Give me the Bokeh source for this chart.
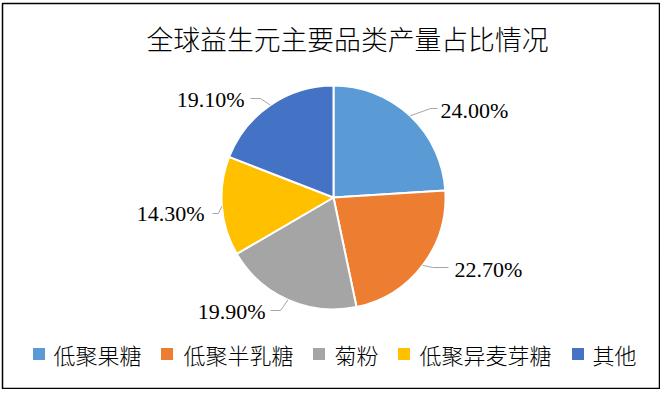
import numpy as np
from bokeh.plotting import figure
from bokeh.models import Range1d
from bokeh.core.properties import value
from bokeh.embed import file_html
from bokeh.resources import INLINE

# ---- data ----
title_text = "全球益生元主要品类产量占比情况"
categories = ["低聚果糖", "低聚半乳糖", "菊粉", "低聚异麦芽糖", "其他"]
shares = [24.00, 22.70, 19.90, 14.30, 19.10]
colors = ["#5B9BD5", "#ED7D31", "#A5A5A5", "#FFC000", "#4472C4"]

# ---- layout ----
W, H = 660, 389
OX, OY = 0, 0
CX, CY, R = 333, 197, 112
CJK = "Noto Sans CJK SC Light, Noto Sans CJK SC"


def X(x):
    return x - OX


def Y(y):
    return H - (y - OY)


p = figure(width=W, height=H, output_backend="svg", toolbar_location=None,
           x_range=Range1d(0, W), y_range=Range1d(0, H),
           x_axis_type=None, y_axis_type=None, min_border=0)
p.grid.visible = False
p.outline_line_color = None
p.background_fill_color = "white"
p.border_fill_color = "white"

# chart-area border
p.quad(left=X(2), right=W - 1, top=Y(3), bottom=1, fill_color=None,
       line_color="black", line_width=1.5)

vals = np.array(shares)
cum = np.concatenate([[0], np.cumsum(vals)]) / vals.sum()
starts = np.pi / 2 - 2 * np.pi * cum[:-1]
ends = np.pi / 2 - 2 * np.pi * cum[1:]
mids = (starts + ends) / 2

p.wedge(x=X(CX), y=Y(CY), radius=R, start_angle=starts, end_angle=ends,
        direction="clock", fill_color=colors, line_color="white", line_width=2)

# leader lines and labels
elbows = [(430, 108), (432, 267), (280, 310), (218, 213), (260, 98)]
line_ends = [(437, 108), (448, 267), (270, 310), (212, 213), (250, 98)]
text_pos = [(440, 110, "left"), (454, 269, "left"), (265, 311, "right"),
            (204, 213, "right"), (244, 99, "right")]

xs, ys = [], []
for m, e, le in zip(mids, elbows, line_ends):
    ex = CX + R * np.cos(m)
    ey = CY - R * np.sin(m)
    xs.append([X(ex), X(e[0]), X(le[0])])
    ys.append([Y(ey), Y(e[1]), Y(le[1])])
p.multi_line(xs=xs, ys=ys, line_color="#A6A6A6", line_width=1)

for v, (tx, ty, al) in zip(shares, text_pos):
    p.text(x=[X(tx)], y=[Y(ty)], text=[f"{v:.2f}%"], text_align=al,
           text_baseline="middle", text_font=value("Liberation Serif"),
           text_font_size="22px", text_color="black")

# title
p.text(x=[X(347)], y=[Y(38)], text=[title_text], text_align="center",
       text_baseline="middle", text_font=value(CJK),
       text_font_size="26.8px", text_color="black")

# legend
sq_x = [38.5, 166.5, 318.5, 403.5, 577.5]
tx_x = [53, 183, 334, 419, 592]
LY = 353.5
p.rect(x=[X(v) for v in sq_x], y=[Y(LY)] * 5, width=12, height=12,
       fill_color=colors, line_color=None)
p.text(x=[X(v) for v in tx_x], y=[Y(LY)] * 5, text=categories,
       text_align="left", text_baseline="middle",
       text_font=value(CJK), text_font_size="22px",
       text_color="black")

open("out.html", "w").write(file_html(p, INLINE))
